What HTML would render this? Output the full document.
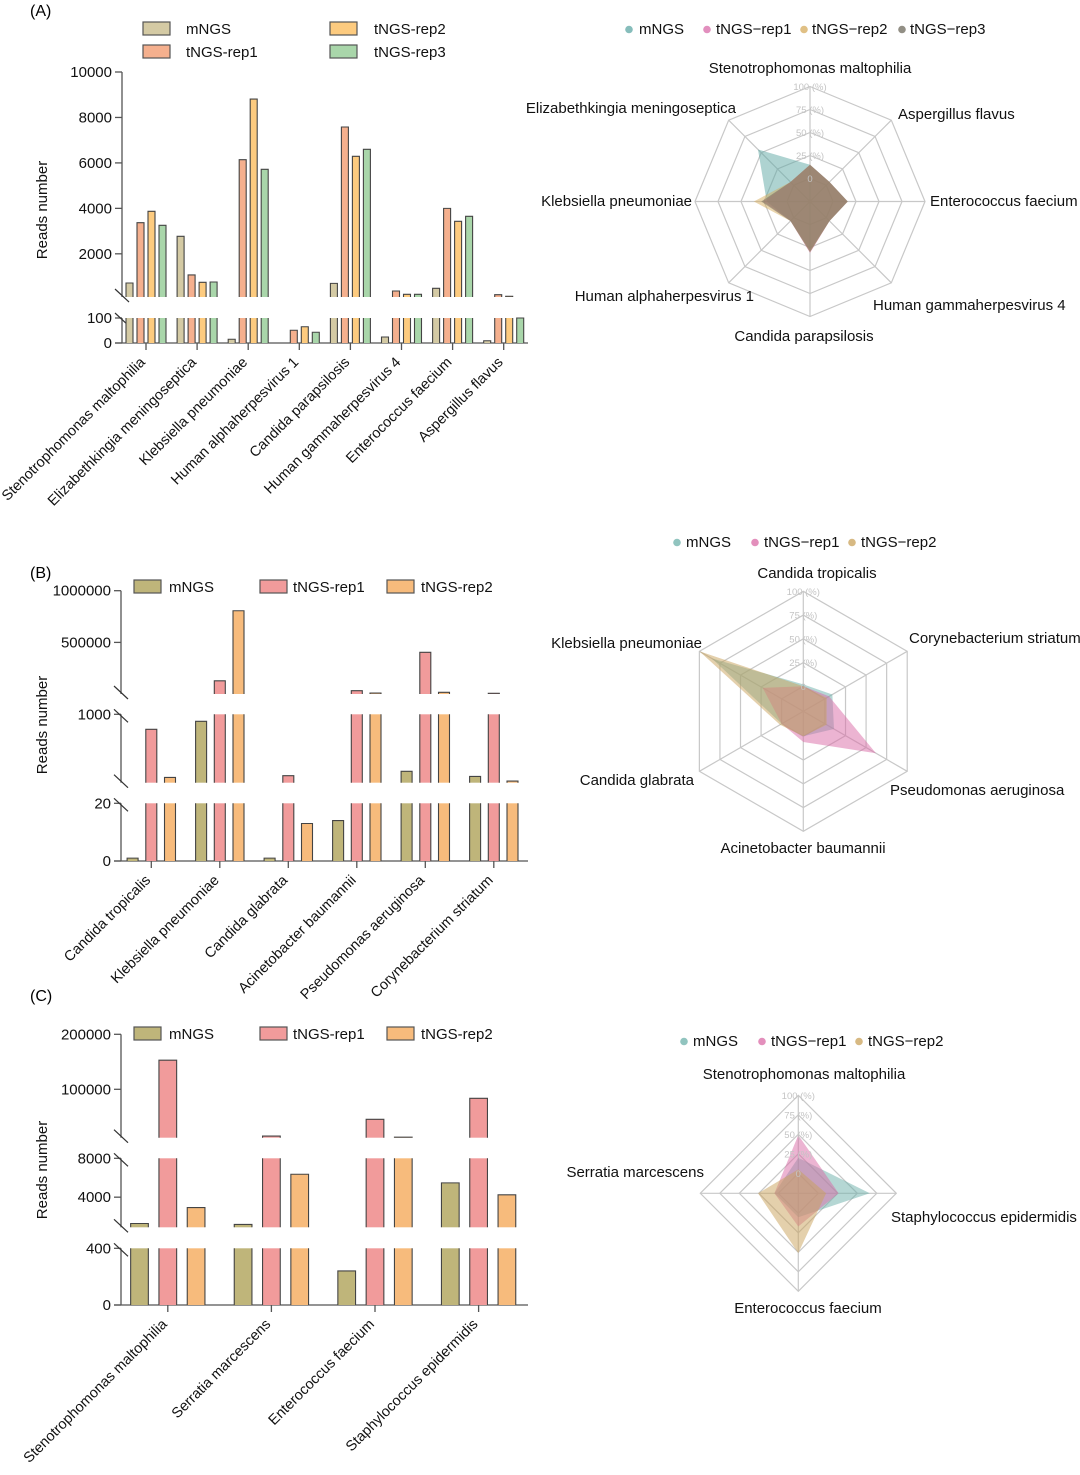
<!DOCTYPE html>
<html><head><meta charset="utf-8"><style>
body{margin:0;background:#fff;}
svg{display:block;font-family:"Liberation Sans",Arial,sans-serif;}
</style></head><body>
<svg id="fig" width="1080" height="1475" viewBox="0 0 1080 1475" xmlns="http://www.w3.org/2000/svg">
<text x="30" y="16" font-size="16">(A)</text>
<text x="30" y="578" font-size="16">(B)</text>
<text x="30" y="1001" font-size="16">(C)</text>
</svg>
<script>
// ---------- Panel A data ----------
const A_cats = ["Stenotrophomonas maltophilia","Elizabethkingia meningoseptica","Klebsiella pneumoniae","Human alphaherpesvirus 1","Candida parapsilosis","Human gammaherpesvirus 4","Enterococcus faecium","Aspergillus flavus"];
const A_mngs = [716, 2770, 15, 0, 700, 24, 483, 9];
const A_rep1 = [3370, 1070, 6140, 51, 7580, 364, 4000, 200];
const A_rep2 = [3870, 747, 8810, 65, 6290, 219, 3430, 130];
const A_rep3 = [3254, 760, 5720, 43, 6600, 219, 3650, 100];
const A_ticksLow = [0, 100];
const A_ticksUp = [2000, 4000, 6000, 8000, 10000];
// radar A
const RA_axes = ["Stenotrophomonas maltophilia","Aspergillus flavus","Enterococcus faecium","Human gammaherpesvirus 4","Candida parapsilosis","Human alphaherpesvirus 1","Klebsiella pneumoniae","Elizabethkingia meningoseptica"];
const RA_mngs = [15, 5, 16, 5, 28, 5, 22, 55];
const RA_rep1 = [15, 5, 16, 5, 31, 5, 26, 5];
const RA_rep2 = [15, 5, 16, 5, 30, 5, 36, 5];
const RA_rep3 = [15, 5, 16, 5, 30, 5, 28, 5];
// ---------- Panel B data ----------
const B_cats = ["Candida tropicalis","Klebsiella pneumoniae","Candida glabrata","Acinetobacter baumannii","Pseudomonas aeruginosa","Corynebacterium striatum"];
const B_mngs = [1, 900, 1, 14, 183, 110];
const B_rep1 = [785, 129000, 120, 33000, 404000, 7700];
const B_rep2 = [96, 806000, 13, 10000, 17000, 44];
const B_ticksLow = [0, 20];
const B_ticksMid = [1000];
const B_ticksUp = [500000, 1000000];
const RB_axes = ["Candida tropicalis","Corynebacterium striatum","Pseudomonas aeruginosa","Acinetobacter baumannii","Candida glabrata","Klebsiella pneumoniae"];
const RB_mngs = [2, 9, 11, 0, 0, 85];
const RB_rep1 = [0, 5, 62, 6, 0, 23];
const RB_rep2 = [0, 2, 2, 0, 2, 100];
// ---------- Panel C data ----------
const C_cats = ["Stenotrophomonas maltophilia","Serratia marcescens","Enterococcus faecium","Staphylococcus epidermidis"];
const C_mngs = [1290, 1190, 240, 5470];
const C_rep1 = [153000, 15000, 45500, 83600];
const C_rep2 = [2930, 6360, 13000, 4240];
const C_ticksLow = [0, 400];
const C_ticksMid = [4000, 8000];
const C_ticksUp = [100000, 200000];
const RC_axes = ["Stenotrophomonas maltophilia","Staphylococcus epidermidis","Enterococcus faecium","Serratia marcescens"];
const RC_mngs = [20, 66, 5, 5];
const RC_rep1 = [49, 26, 17, 5];
const RC_rep2 = [5, 10, 51, 26];

const NS = "http://www.w3.org/2000/svg";
const svg = document.getElementById("fig");
function el(tag, attrs, parent){
  const e = document.createElementNS(NS, tag);
  for (const k in attrs) e.setAttribute(k, attrs[k]);
  (parent || svg).appendChild(e);
  return e;
}
function fmt(v){ return String(v); }

function barChart(cfg){
  const g = el("g", {});
  
  
  const segs = cfg.segs;
  function yOf(s, v){ return s.y0 - (v - s.d0) / (s.d1 - s.d0) * (s.y0 - s.y1); }
  segs.forEach((s, si) => {
    const ax = el("line", {x1: cfg.ax, x2: cfg.ax, y1: s.y0, y2: s.y1, stroke: "#555", "stroke-width": 1.3}, g);
    
    
    s.ticks.forEach(t => {
      const y = yOf(s, t);
      el("line", {x1: cfg.ax - 7, x2: cfg.ax, y1: y, y2: y, stroke: "#555", "stroke-width": 1.3}, g);
      const tx = el("text", {x: cfg.ax - 10, y: y + 5, "font-size": 15, "text-anchor": "end", fill: "#111"}, g);
      tx.textContent = fmt(t);
      
      
    });
    if (si > 0) {
      const prevTop = segs[si - 1].y1;
      el("line", {x1: cfg.ax - 7, y1: prevTop - 5, x2: cfg.ax + 7, y2: prevTop + 8, stroke: "#333", "stroke-width": 1.2}, g);
      el("line", {x1: cfg.ax - 7, y1: s.y0 - 8, x2: cfg.ax + 7, y2: s.y0 + 5, stroke: "#333", "stroke-width": 1.2}, g);
    }
  });
  const y0 = segs[0].y0;
  const xa = el("line", {x1: cfg.ax - 7, x2: cfg.axEnd, y1: y0, y2: y0, stroke: "#555", "stroke-width": 1.3}, g);
  
  
  const nS = cfg.series.length;
  cfg.cats.forEach((c, i) => {
    const cx = cfg.x0 + i * cfg.step;
    el("line", {x1: cx, x2: cx, y1: y0, y2: y0 + 7, stroke: "#555", "stroke-width": 1.3}, g);
    const lab = el("text", {x: 0, y: 0, "font-size": 14.5, "text-anchor": "end", fill: "#111",
      transform: `translate(${cx},${y0 + 20}) rotate(-45)`}, g);
    lab.textContent = c;
    
    
    cfg.series.forEach((arr, k) => {
      const v = arr[i];
      const bc = cx + (k - (nS - 1) / 2) * cfg.stride;
      const bx = bc - cfg.bw / 2;
      segs.forEach(s => {
        if (v <= s.d0 && s.d0 > 0) return;
        if (v <= 0) return;
        const top = Math.min(v, s.d1);
        const yT = yOf(s, top);
        const clipped = v > s.d1;
        const r = el("rect", {x: bx, y: yT, width: cfg.bw, height: Math.max(0, s.y0 - yT), fill: cfg.colors[k]}, g);
        
        
        let d = `M${bx},${s.y0} L${bx},${yT} ` + (clipped ? `M${bx + cfg.bw},${yT}` : `L${bx + cfg.bw},${yT}`) + ` L${bx + cfg.bw},${s.y0}`;
        el("path", {d: d, fill: "none", stroke: "#444", "stroke-width": 1.1}, g);
      });
    });
  });
  const yt = el("text", {x: 0, y: 0, "font-size": 15, "text-anchor": "middle", fill: "#111",
    transform: `translate(${cfg.titleX},${cfg.titleY}) rotate(-90)`}, g);
  yt.textContent = "Reads number";
  
  
  cfg.legend.forEach((L, k) => {
    const lg = el("g", {}, g);
    
    
    el("rect", {x: L[0], y: L[1], width: 27, height: 13, fill: cfg.colors[k], stroke: "#555", "stroke-width": 1.2}, lg);
    const t = el("text", {x: L[2], y: L[1] + 12, "font-size": 15, fill: "#111"}, lg);
    t.textContent = cfg.labels[k];
  });
}

function radar(cfg){
  const g = el("g", {});
  
  
  const n = cfg.axes.length;
  const ang = i => -Math.PI / 2 + i * 2 * Math.PI / n;
  const rOf = p => cfg.r0 + (cfg.R - cfg.r0) * p / 100;
  const pt = (i, r) => [cfg.cx + r * Math.cos(ang(i)), cfg.cy + r * Math.sin(ang(i))];
  [0, 25, 50, 75, 100].forEach(p => {
    const r = rOf(p);
    const pts = [];
    for (let i = 0; i < n; i++) pts.push(pt(i, r).join(","));
    el("polygon", {points: pts.join(" "), fill: "none", stroke: "#c8c8c8", "stroke-width": 1.2}, g);
  });
  for (let i = 0; i < n; i++) {
    const p = pt(i, cfg.R);
    el("line", {x1: cfg.cx, y1: cfg.cy, x2: p[0], y2: p[1], stroke: "#c8c8c8", "stroke-width": 1.2}, g);
  }
  cfg.series.forEach((arr, k) => {
    const pts = arr.map((v, i) => pt(i, rOf(v)).join(","));
    const pg = el("polygon", {points: pts.join(" "), fill: cfg.colors[k], "fill-opacity": 0.5, stroke: "none"}, g);
    
    
  });
  ["0", "25 (%)", "50 (%)", "75 (%)", "100 (%)"].forEach((s, j) => {
    const t = el("text", {x: cfg.cx, y: cfg.cy - rOf(j * 25) + 3.5, "font-size": 9.5, "text-anchor": "middle", fill: "#c4c4c4"}, g);
    t.textContent = s;
    
    
  });
  cfg.axes.forEach((a, i) => {
    const L = cfg.labelPos[i];
    const t = el("text", {x: L[0], y: L[1], "font-size": 15, "text-anchor": L[2], fill: "#111"}, g);
    t.textContent = a;
    
    
  });
  cfg.legend.forEach((L, k) => {
    const lg = el("g", {}, g);
    
    
    el("circle", {cx: L[0], cy: cfg.legY - 4.5, r: 3.8, fill: cfg.colors[k], "fill-opacity": 0.75}, lg);
    const t = el("text", {x: L[1], y: cfg.legY, "font-size": 15, fill: "#111"}, lg);
    t.textContent = cfg.labels[k];
  });
}

barChart({name: "panel-a-bar-chart", ax: 122, axEnd: 528, x0: 146, step: 51.1, bw: 7, stride: 11,
  cats: A_cats, series: [A_mngs, A_rep1, A_rep2, A_rep3], keys: ["mngs","rep1","rep2","rep3"],
  colors: ["#d4caa4", "#f5b08e", "#fdcb7f", "#a9d6aa"],
  labels: ["mNGS", "tNGS-rep1", "tNGS-rep2", "tNGS-rep3"],
  segs: [{d0: 0, d1: 100, y0: 343, y1: 318, ticks: A_ticksLow}, {d0: 100, d1: 10000, y0: 297, y1: 72, ticks: A_ticksUp}],
  titleX: 47, titleY: 210,
  legend: [[143, 22, 186], [143, 45, 186], [330, 22, 374], [330, 45, 374]]});
radar({name: "panel-a-radar", cx: 810, cy: 201.5, r0: 23, R: 115, axes: RA_axes,
  series: [RA_mngs, RA_rep1, RA_rep2, RA_rep3], keys: ["mngs","rep1","rep2","rep3"],
  colors: ["#5ea7a4", "#d86aa8", "#d6ab5c", "#6e6a5c"],
  labels: ["mNGS", "tNGS\u2212rep1", "tNGS\u2212rep2", "tNGS\u2212rep3"],
  labelPos: [[810, 73, "middle"], [898, 119, "start"], [930, 206, "start"], [873, 310, "start"], [804, 341, "middle"], [754, 301, "end"], [692, 206, "end"], [736, 113, "end"]],
  legY: 34, legend: [[629, 639], [707, 716], [804, 812], [902, 910]]});

barChart({name: "panel-b-bar-chart", ax: 121, axEnd: 528, x0: 151.3, step: 68.5, bw: 11, stride: 18.7,
  cats: B_cats, series: [B_mngs, B_rep1, B_rep2], keys: ["mngs","rep1","rep2"],
  colors: ["#bfb57a", "#f19b9b", "#f7bb7c"],
  labels: ["mNGS", "tNGS-rep1", "tNGS-rep2"],
  segs: [{d0: 0, d1: 20, y0: 861, y1: 803.3, ticks: B_ticksLow}, {d0: 20, d1: 1000, y0: 782.7, y1: 714.3, ticks: B_ticksMid},
         {d0: 1000, d1: 1000000, y0: 694, y1: 590.7, ticks: B_ticksUp}],
  titleX: 47, titleY: 725,
  legend: [[134, 580, 169], [260, 580, 293], [387, 580, 421]]});
radar({name: "panel-b-radar", cx: 803.3, cy: 711.3, r0: 25, R: 120, axes: RB_axes,
  series: [RB_mngs, RB_rep1, RB_rep2], keys: ["mngs","rep1","rep2"],
  colors: ["#6cb0aa", "#d96aa6", "#caa15a"],
  labels: ["mNGS", "tNGS\u2212rep1", "tNGS\u2212rep2"],
  labelPos: [[817, 578, "middle"], [909, 643, "start"], [890, 795, "start"], [803, 853, "middle"], [694, 785, "end"], [702, 648, "end"]],
  legY: 547, legend: [[677, 686], [755, 764], [852, 861]]});

barChart({name: "panel-c-bar-chart", ax: 121, axEnd: 528, x0: 167.8, step: 103.6, bw: 17.7, stride: 28.3,
  cats: C_cats, series: [C_mngs, C_rep1, C_rep2], keys: ["mngs","rep1","rep2"],
  colors: ["#bfb57a", "#f19b9b", "#f7bb7c"],
  labels: ["mNGS", "tNGS-rep1", "tNGS-rep2"],
  segs: [{d0: 0, d1: 400, y0: 1305, y1: 1248.3, ticks: C_ticksLow}, {d0: 900, d1: 8000, y0: 1227.3, y1: 1158.3, ticks: C_ticksMid},
         {d0: 12000, d1: 200000, y0: 1137.7, y1: 1034.3, ticks: C_ticksUp}],
  titleX: 47, titleY: 1170,
  legend: [[134, 1027, 169], [260, 1027, 293], [387, 1027, 421]]});
radar({name: "panel-c-radar", cx: 798.3, cy: 1193.3, r0: 20, R: 98, axes: RC_axes,
  series: [RC_mngs, RC_rep1, RC_rep2], keys: ["mngs","rep1","rep2"],
  colors: ["#6cb0aa", "#d96aa6", "#caa15a"],
  labels: ["mNGS", "tNGS\u2212rep1", "tNGS\u2212rep2"],
  labelPos: [[804, 1079, "middle"], [891, 1222, "start"], [808, 1313, "middle"], [704, 1177, "end"]],
  legY: 1046, legend: [[684, 693], [762, 771], [859, 868]]});
</script>
</body></html>
